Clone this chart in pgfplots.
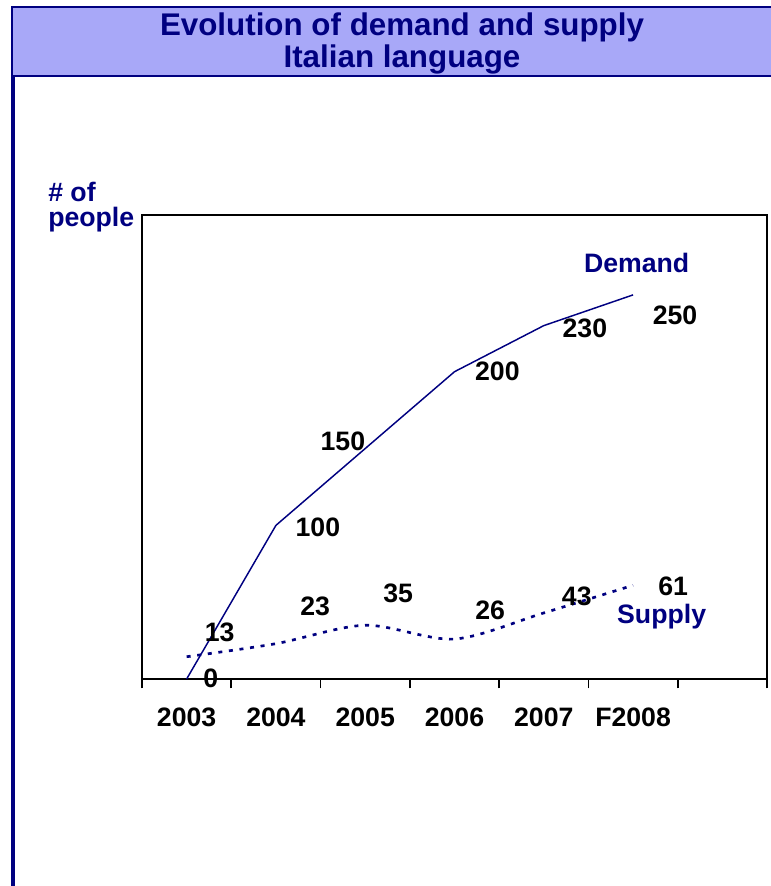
\documentclass[border=0pt]{standalone}
\usepackage{pgfplots}
\pgfplotsset{compat=1.18}
\usepackage{fontspec}
\setmainfont{Liberation Sans}
\definecolor{navy}{RGB}{0,0,128}
\definecolor{titlefill}{RGB}{168,168,248}
\newcommand\numfont{\fontsize{20}{24}\selectfont\bfseries}
\begin{document}
\begin{tikzpicture}
\begin{axis}[
 at={(0,0)}, anchor=south west,
 scale only axis, width=468.75pt, height=348pt,
 xmin=0, xmax=7, ymin=0, ymax=302,
 axis line style={black, line width=1.5pt},
 xtick={0.5,1.5,2.5,3.5,4.5,5.5},
 xticklabels={2003,2004,2005,2006,2007,F2008},
 major tick length=0pt,
 minor xtick={0,1,2,3,4,5,6,7},
 minor tick length=7pt,
 tick align=outside,
 xtick pos=bottom,
 ytick=\empty,
 minor tick style={black, line width=1.2pt},
 xticklabel style={font=\numfont, yshift=-18pt},
 clip=false,
]
\addplot[navy, line width=1.1pt] coordinates {(0.5,0)(1.5,100)(2.5,150)(3.5,200)(4.5,230)(5.5,250)};
\addplot[navy, line width=2pt, dash pattern=on 3pt off 5pt, smooth] coordinates {(0.5,14.5)(1.5,23)(2.5,35)(3.5,26)(4.5,43)(5.5,61)};
% demand labels
\node[font=\numfont] at (axis cs:0.77,0.7) {0};
\node[font=\numfont] at (axis cs:1.97,99) {100};
\node[font=\numfont] at (axis cs:2.25,155) {150};
\node[font=\numfont] at (axis cs:3.98,200) {200};
\node[font=\numfont] at (axis cs:4.96,228.5) {230};
\node[font=\numfont] at (axis cs:5.97,237) {250};
% supply labels
\node[font=\numfont] at (axis cs:0.87,30.6) {13};
\node[font=\numfont] at (axis cs:1.94,47.5) {23};
\node[font=\numfont] at (axis cs:2.87,56) {35};
\node[font=\numfont] at (axis cs:3.90,45) {26};
\node[font=\numfont] at (axis cs:4.87,54) {43};
\node[font=\numfont] at (axis cs:5.95,60.5) {61};
\node[font=\numfont, text=navy] at (axis cs:5.54,271) {Demand};
\node[font=\numfont, text=navy] at (axis cs:5.82,40.4) {Supply};
\end{axis}
\begin{scope}[x=0.75pt,y=-0.75pt,shift={(-142,-679)}]
\useasboundingbox (0,0) rectangle (771,886);
\filldraw[fill=titlefill, draw=navy, line width=2pt] (12,7) rectangle (790,76);
\draw[navy, line width=2.3pt] (13,76) -- (13,900);
\node[navy, font=\fontsize{23.5}{24}\selectfont\bfseries, align=center] at (402,43) {Evolution of demand and supply\\Italian language};
\node[navy, font=\fontsize{20}{18.5}\selectfont\bfseries, align=left, anchor=west, inner sep=0pt] at (48,207) {\# of\\people};
\end{scope}
\end{tikzpicture}
\end{document}
